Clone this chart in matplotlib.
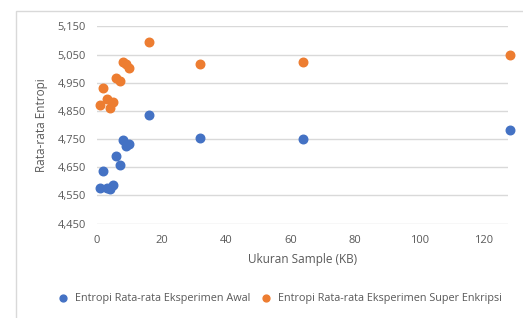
import matplotlib.pyplot as plt
from matplotlib.patches import Rectangle

# data
ukuran_kb = [1, 2, 3, 4, 5, 6, 7, 8, 9, 10, 16, 32, 64, 128]
entropi_awal = [4.575, 4.636, 4.575, 4.571, 4.588, 4.689, 4.659,
                4.745, 4.727, 4.732, 4.836, 4.755, 4.750, 4.783]
entropi_super = [4.870, 4.932, 4.892, 4.859, 4.881, 4.967, 4.956,
                 5.024, 5.016, 5.004, 5.093, 5.016, 5.022, 5.047]
label_awal = 'Entropi Rata-rata Eksperimen Awal'
label_super = 'Entropi Rata-rata Eksperimen Super Enkripsi'
y_ticks = [4.45, 4.55, 4.65, 4.75, 4.85, 4.95, 5.05, 5.15]
x_ticks = [0, 20, 40, 60, 80, 100, 120]

plt.rcParams['font.family'] = ['Open Sans', 'DejaVu Sans']
abu = '#595959'

fig = plt.figure(figsize=(5.23, 3.18), dpi=100)
fig.patches.append(Rectangle((16 / 523, -0.1), 1.1, 1 - 11 / 318 + 0.1,
                             transform=fig.transFigure, fill=False,
                             edgecolor='#D9D9D9', linewidth=1))

ax = fig.add_axes([97 / 523, 1 - 224 / 318, 411 / 523, 198 / 318])
ax.scatter(ukuran_kb, entropi_awal, s=38, color='#4472C4', label=label_awal,
           zorder=3, clip_on=False)
ax.scatter(ukuran_kb, entropi_super, s=38, color='#ED7D31', label=label_super,
           zorder=3, clip_on=False)

ax.set_xlim(0, 127.5)
ax.set_ylim(4.4485, 5.1515)
ax.set_xticks(x_ticks)
ax.set_yticks(y_ticks)
ax.set_yticklabels([f'{v:.3f}'.replace('.', ',') for v in y_ticks])
ax.tick_params(length=0, labelsize=8, colors=abu, pad=8)
ax.grid(axis='y', color='#D9D9D9', linewidth=1)
ax.set_axisbelow(True)
for s in ax.spines.values():
    s.set_visible(False)

ax.set_xlabel('Ukuran Sample (KB)', fontsize=8.5, color=abu, labelpad=5)
ax.set_ylabel('Rata-rata Entropi', fontsize=8.5, color=abu, labelpad=7)

fig.legend(loc='center', bbox_to_anchor=(0.53, 1 - 298 / 318), ncol=2,
           frameon=False, fontsize=7.8, labelcolor=abu, handletextpad=0.05,
           columnspacing=0.5, markerscale=0.8)

fig.savefig('out.png', dpi=100)
